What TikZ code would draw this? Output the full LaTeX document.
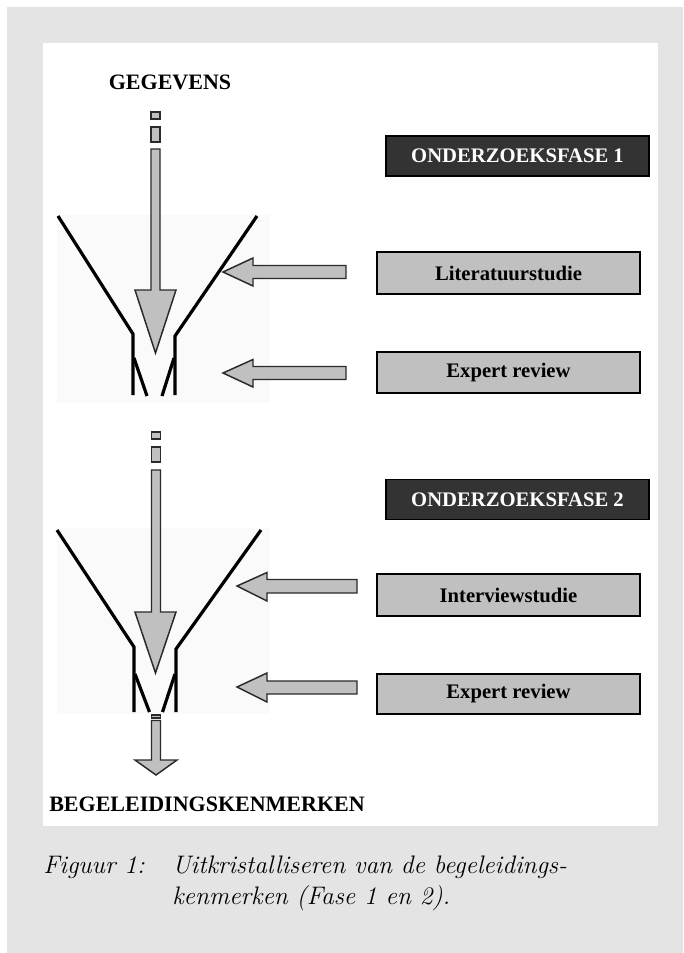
\documentclass[tikz,border=0pt]{standalone}
\usepackage{fontspec}
\newfontfamily\tnr{Liberation Serif}
\definecolor{pagebg}{HTML}{E4E4E4}
\definecolor{agrey}{HTML}{C0C0C0}
\definecolor{aline}{HTML}{2A2A2A}
\definecolor{darkbox}{HTML}{333333}
\definecolor{faint}{HTML}{FAFAFA}
\begin{document}
\begin{tikzpicture}[x=0.75pt,y=-0.75pt,
  funnel/.style={line width=2.4pt, black, line cap=butt, line join=miter},
  blockarrow/.style={fill=agrey, draw=aline, line width=1.1pt, line join=miter},
  lightbox/.style={draw=black, line width=1.1pt, fill=agrey, inner sep=0pt,
     minimum width=197.25pt, font=\tnr\bfseries\fontsize{15.5}{18}\selectfont},
  darkbox/.style={draw=black, line width=0.8pt, fill=darkbox, text=white, inner sep=0pt,
     minimum width=197.25pt, minimum height=30pt, font=\tnr\bfseries\fontsize{15.5}{18}\selectfont},
  title/.style={inner sep=0pt, font=\tnr\bfseries\fontsize{16.5}{19}\selectfont},
  captext/.style={inner sep=0pt, anchor=base west, font=\itshape\fontsize{19}{22}\selectfont}]
\useasboundingbox (0,0) rectangle (683,953);
% page background and panel
\fill[pagebg] (7,7) rectangle (683,953);
\fill[white] (43,43) rectangle (658,826);
\fill[faint] (57,215) rectangle (270,403);
\fill[faint] (57,528) rectangle (270,714);

% titles
\node[title] (geg) at (170,82) {GEGEVENS};
\node[title] (beg) at (207,804) {BEGELEIDINGSKENMERKEN};

% phase 1 boxes
\node[darkbox] (f1) at (517.5,156) {ONDERZOEKSFASE 1};
\node[lightbox, minimum height=31.5pt] (lit) at (508.5,273) {Literatuurstudie};
\node[lightbox, minimum height=30.75pt] (exp1) at (508.5,372.5) {Expert review};

% phase 2 boxes
\node[darkbox] (f2) at (517.5,499.5) {ONDERZOEKSFASE 2};
\node[lightbox, minimum height=31.5pt] (int) at (508.5,595) {Interviewstudie};
\node[lightbox, minimum height=30pt] (exp2) at (508.5,694) {Expert review};

% phase 1 down arrow
\draw[blockarrow] (151,112) rectangle (160,119);
\draw[blockarrow] (151,127) rectangle (160,142);
\draw[blockarrow] (151,149) -- (160,149) -- (160,290) -- (176,290) -- (155.5,353)
   -- (135,290) -- (151,290) -- cycle;

% phase 1 funnel
\draw[funnel] (58,216) -- (133,334) -- (133,395);
\draw[funnel] (134,358) -- (147,396);
\draw[funnel] (257,216) -- (175,336) -- (175,395);
\draw[funnel] (174,358) -- (162,396);

% phase 1 side arrows
\draw[blockarrow] (223,272) -- (253,258) -- (253,265.5) -- (346,265.5) -- (346,278.5)
   -- (253,278.5) -- (253,286) -- cycle;
\draw[blockarrow] (223,373) -- (253,359.5) -- (253,366.5) -- (346,366.5) -- (346,379.5)
   -- (253,379.5) -- (253,387) -- cycle;

% phase 2 down arrow
\draw[blockarrow] (151.5,432) rectangle (160.5,439);
\draw[blockarrow] (151.5,447) rectangle (160.5,462);
\draw[blockarrow] (151.5,470) -- (160.5,470) -- (160.5,612) -- (176,612) -- (155.5,673)
   -- (135,612) -- (151.5,612) -- cycle;

% phase 2 funnel
\draw[funnel] (57,530) -- (134,647) -- (134,712);
\draw[funnel] (135,674) -- (149.5,712);
\draw[funnel] (261,530) -- (176,649) -- (176,712);
\draw[funnel] (175,674) -- (162.5,712);

% phase 2 side arrows
\draw[blockarrow] (237,586) -- (267,572.5) -- (267,579.5) -- (357,579.5) -- (357,593)
   -- (267,593) -- (267,601) -- cycle;
\draw[blockarrow] (237,687) -- (267,673) -- (267,681) -- (357,681) -- (357,694)
   -- (267,694) -- (267,702) -- cycle;

% output arrow
\draw[blockarrow] (151.5,715) rectangle (160.5,718);
\draw[blockarrow] (151.5,720.5) -- (160.5,720.5) -- (160.5,760) -- (177,760) -- (156,775)
   -- (135,760) -- (151.5,760) -- cycle;

% caption
\node[captext] (fig) at (43,873) {Figuur 1:};
\node[captext] (cap1) at (172,873) {Uitkristalliseren van de begeleidings-};
\node[captext] (cap2) at (172,904) {kenmerken (Fase 1 en 2).};
\end{tikzpicture}
\end{document}
